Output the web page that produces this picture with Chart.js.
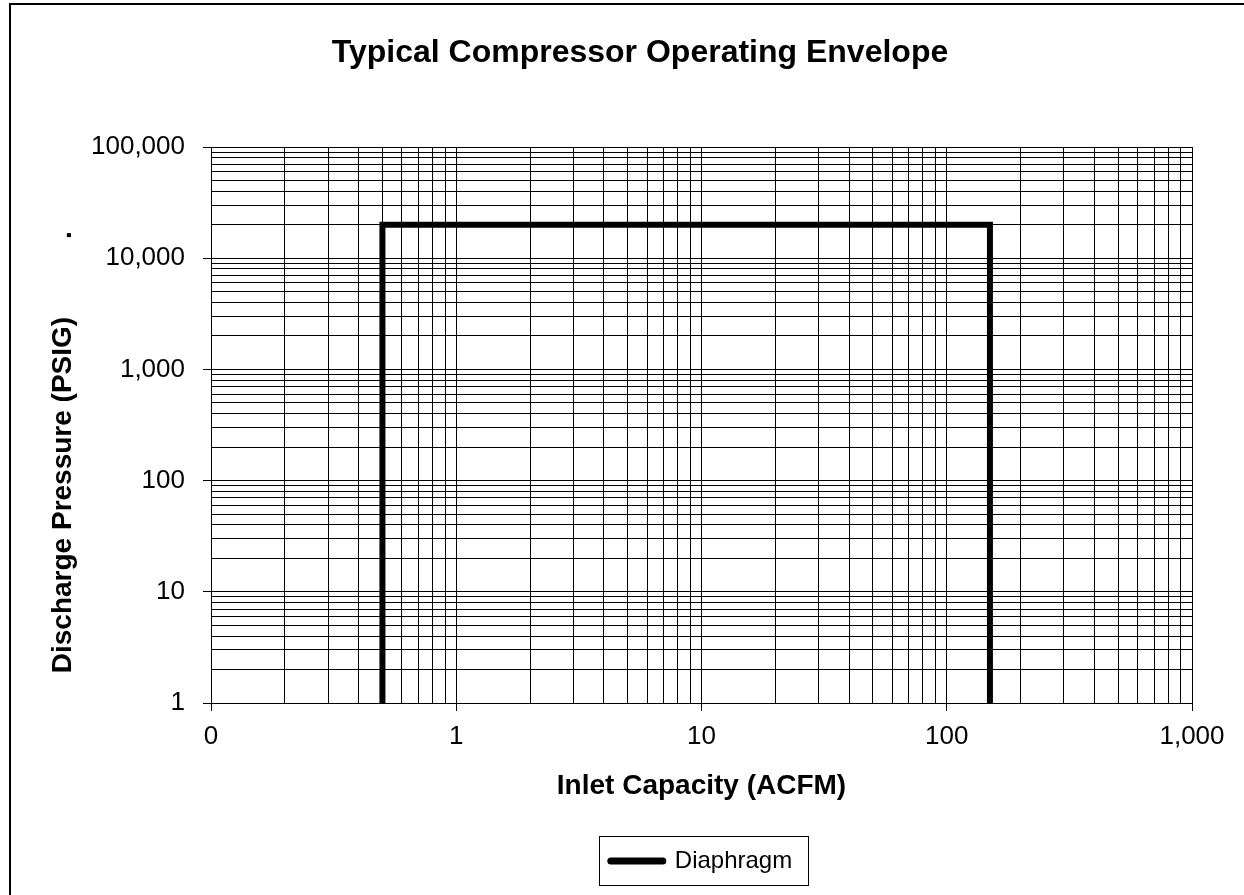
<!DOCTYPE html>
<html>
<head>
<meta charset="utf-8">
<title>Typical Compressor Operating Envelope</title>
<script src="https://cdn.jsdelivr.net/npm/chart.js@4.4.0/dist/chart.umd.min.js"></script>
<style>
  html, body { margin: 0; padding: 0; background: #fff; }
</style>
</head>
<body>
<canvas id="envelope" width="1244" height="895"></canvas>
<script>
// envelope outline
const capacity = [0.5, 0.5, 150, 150];        // ACFM
const pressure = [1, 20000, 20000, 1];        // PSIG

const xDecades = [0.1, 1, 10, 100, 1000];
const xTickLabels = ['0', '1', '10', '100', '1,000'];
const yDecades = [1, 10, 100, 1000, 10000, 100000];
const yTickLabels = ['1', '10', '100', '1,000', '10,000', '100,000'];
const minorSteps = [2, 3, 4, 5, 6, 7, 8, 9];

// one grid line per 1..9 step of each decade, labels only on the decades
function logTicks(decades) {
  const ticks = [];
  decades.forEach((d, i) => {
    ticks.push({ value: d, major: true });
    if (i < decades.length - 1) {
      minorSteps.forEach(m => ticks.push({ value: d * m, major: false }));
    }
  });
  return ticks;
}

const majorTickColor = (ctx) => (ctx.tick && ctx.tick.major ? '#000' : 'rgba(0,0,0,0)');

Chart.defaults.font.family = "'Liberation Sans', Arial, sans-serif";
Chart.defaults.color = '#000';

const frames = {
  id: 'frames',
  afterDraw(chart) {
    const ctx = chart.ctx;
    ctx.save();
    ctx.strokeStyle = '#000';
    // outer chart border (left and top edges show in the picture)
    ctx.lineWidth = 2;
    ctx.beginPath();
    ctx.moveTo(10, chart.height);
    ctx.lineTo(10, 4);
    ctx.lineTo(chart.width, 4);
    ctx.stroke();
    // box round the legend
    const hb = chart.legend.legendHitBoxes[0];
    if (hb) {
      ctx.lineWidth = 1;
      ctx.strokeRect(Math.round(hb.left - 12) + 0.5, Math.round(hb.top - 13) + 0.5,
        Math.round(hb.width + 28), 49);
    }
    ctx.restore();
  }
};

new Chart(document.getElementById('envelope'), {
  type: 'scatter',
  data: {
    datasets: [{
      label: 'Diaphragm',
      data: capacity.map((x, i) => ({ x: x, y: pressure[i] })),
      showLine: true,
      borderColor: '#000',
      backgroundColor: '#000',
      borderWidth: 6,
      borderJoinStyle: 'miter',
      pointRadius: 0,
      pointHoverRadius: 0
    }]
  },
  options: {
    responsive: false,
    animation: false,
    layout: { padding: { left: 88, right: 52, top: 10, bottom: 12 } },
    scales: {
      x: {
        type: 'logarithmic',
        position: 'bottom',
        min: 0.1,
        max: 1000,
        afterBuildTicks: (scale) => { scale.ticks = logTicks(xDecades); },
        afterFit: (scale) => { scale.height = 130; },
        grid: { color: '#000', lineWidth: 1, tickLength: 8, tickColor: majorTickColor },
        border: { color: '#000', width: 1 },
        ticks: {
          autoSkip: false,
          maxRotation: 0,
          padding: 10,
          color: '#000',
          font: { size: 26 },
          callback: (value) => {
            const i = xDecades.indexOf(value);
            return i >= 0 ? xTickLabels[i] : '';
          }
        },
        title: {
          display: true,
          text: 'Inlet Capacity (ACFM)',
          color: '#000',
          font: { size: 28, weight: 'bold' },
          padding: { top: 0, bottom: 30 }
        }
      },
      y: {
        type: 'logarithmic',
        position: 'left',
        min: 1,
        max: 100000,
        afterBuildTicks: (scale) => { scale.ticks = logTicks(yDecades); },
        afterFit: (scale) => { scale.width = 123; },
        grid: { color: '#000', lineWidth: 1, tickLength: 8, tickColor: majorTickColor },
        border: { color: '#000', width: 1 },
        ticks: {
          autoSkip: false,
          padding: 18,
          color: '#000',
          font: { size: 26 },
          callback: (value) => {
            const i = yDecades.indexOf(value);
            return i >= 0 ? yTickLabels[i] : '';
          }
        },
        title: {
          display: true,
          text: 'Discharge Pressure (PSIG)          .       ',
          color: '#000',
          font: { size: 28, weight: 'bold' },
          padding: { top: -42, bottom: 0 }
        }
      }
    },
    plugins: {
      title: {
        display: true,
        text: 'Typical Compressor Operating Envelope',
        color: '#000',
        font: { size: 32, weight: 'bold' },
        padding: { top: 24, bottom: 74.6 }
      },
      legend: {
        position: 'bottom',
        fullSize: false,
        labels: {
          usePointStyle: true,
          pointStyle: 'line',
          pointStyleWidth: 52,
          padding: 16,
          color: '#000',
          font: { size: 24 },
          generateLabels: (chart) => {
            const items = Chart.defaults.plugins.legend.labels.generateLabels(chart);
            items.forEach(it => { it.lineCap = 'round'; it.lineWidth = 7; });
            return items;
          }
        }
      },
      tooltip: { enabled: false }
    }
  },
  plugins: [frames]
});
</script>
</body>
</html>
